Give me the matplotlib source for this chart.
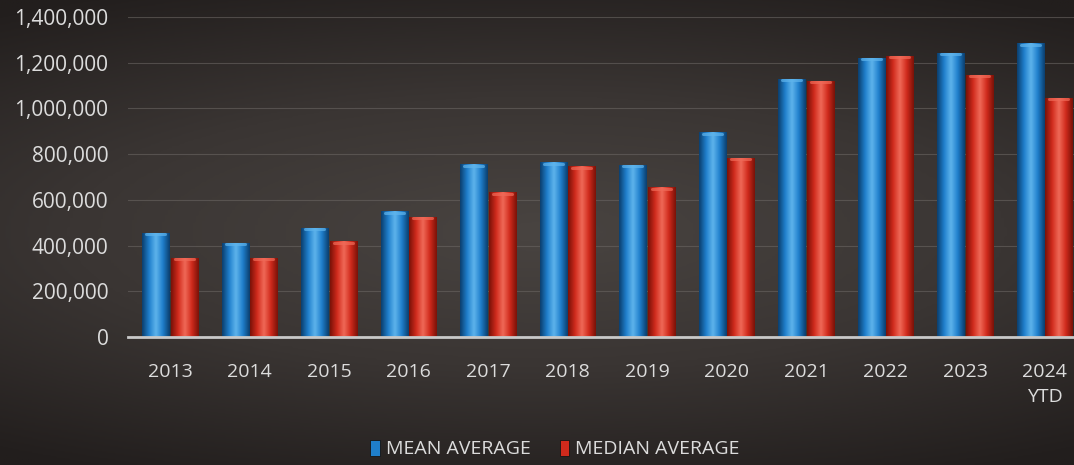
import numpy as np
import matplotlib.pyplot as plt
from matplotlib.ticker import FuncFormatter
from matplotlib.colors import LinearSegmentedColormap

# ----------
# DATA
# ----------
years = ["2013", "2014", "2015", "2016", "2017", "2018",
         "2019", "2020", "2021", "2022", "2023", "2024\nYTD"]
mean_avg = [455000, 412000, 478000, 550000, 755000, 765000,
            752000, 895000, 1130000, 1222000, 1244000, 1285000]
median_avg = [347000, 347000, 418000, 527000, 633000, 747000,
              655000, 785000, 1121000, 1230000, 1147000, 1046000]

# ----------
# STYLE
# ----------
plt.rcParams['font.family'] = ['Open Sans', 'DejaVu Sans']
text_col = '#dcdcdc'
blue = '#1f7fcc'
red = '#d02a1c'

fig = plt.figure(figsize=(10.74, 4.65), dpi=100)

# dark charcoal background, lighter through the middle
bg = fig.add_axes([0, 0, 1, 1], zorder=-10)
yy, xx = np.mgrid[-1:1:200j, -1:1:400j]
r = np.sqrt((xx * 0.8) ** 2 + (yy * 1.2) ** 2)
bg_cmap = LinearSegmentedColormap.from_list('bg', ['#494441', '#3a3533', '#221e1d'])
bg.imshow(r, cmap=bg_cmap, aspect='auto', extent=[0, 1, 0, 1], vmin=0, vmax=1.4)
bg.axis('off')

# axes placed to match the reference pixels
cx0, step = 170, 79.5
ax = fig.add_axes([128 / 1074, 1 - 337 / 465, 1 - 128 / 1074, (337 - 17) / 465])
ax.set_facecolor('none')

x = np.arange(len(years))
w = 0.34
off = 0.18

def shaded_bars(xpos, vals, color, dark, light):
    bars = ax.bar(xpos, vals, width=w, color=color, zorder=3,
                  edgecolor='#151515', linewidth=0.6)
    cmap = LinearSegmentedColormap.from_list('c', [dark, color, light, color, dark])
    grad = np.linspace(0, 1, 64).reshape(1, -1)
    for b in bars:
        bx, bw, bh = b.get_x(), b.get_width(), b.get_height()
        im = ax.imshow(grad, cmap=cmap, aspect='auto', zorder=3.5,
                       extent=[bx, bx + bw, 0, bh], interpolation='bicubic')
        im.set_clip_path(b)
        # rounded highlight cap
        ax.plot([bx + bw * 0.15, bx + bw * 0.85], [bh - 6000, bh - 6000],
                color=light, lw=2.2, alpha=0.7, zorder=4, solid_capstyle='round')
    return bars

b1 = shaded_bars(x - off, mean_avg, blue, '#0b3f6e', '#5fb4ec')
b2 = shaded_bars(x + off, median_avg, red, '#7a1208', '#f06a58')

ax.set_xlim((128 - cx0) / step, (1074 - cx0) / step)
ax.set_ylim(0, 1400000)
ax.set_yticks(np.arange(0, 1400001, 200000))
ax.yaxis.set_major_formatter(FuncFormatter(lambda v, p: f"{int(v):,}"))
ax.set_xticks(x)
ax.set_xticklabels(years, linespacing=1.45)

ax.grid(axis='y', color='#6a6562', linewidth=0.8, alpha=0.6, zorder=0)
ax.set_axisbelow(True)
for s in ['top', 'right', 'left']:
    ax.spines[s].set_visible(False)
ax.spines['bottom'].set_color('#c9c9c9')
ax.spines['bottom'].set_linewidth(2)
ax.spines['bottom'].set_zorder(5)

ax.tick_params(axis='y', length=0, pad=14, labelsize=15, labelcolor=text_col)
ax.tick_params(axis='x', length=0, pad=19, labelsize=14, labelcolor=text_col)

leg = fig.legend([b1, b2], ["MEAN AVERAGE", "MEDIAN AVERAGE"],
                 loc='center', bbox_to_anchor=(555 / 1074, 1 - 449 / 465),
                 ncol=2, frameon=False, fontsize=14, handlelength=0.5,
                 handleheight=0.9, handletextpad=0.3, columnspacing=1.5)
for t in leg.get_texts():
    t.set_color(text_col)

fig.savefig('out.png', dpi=100)
